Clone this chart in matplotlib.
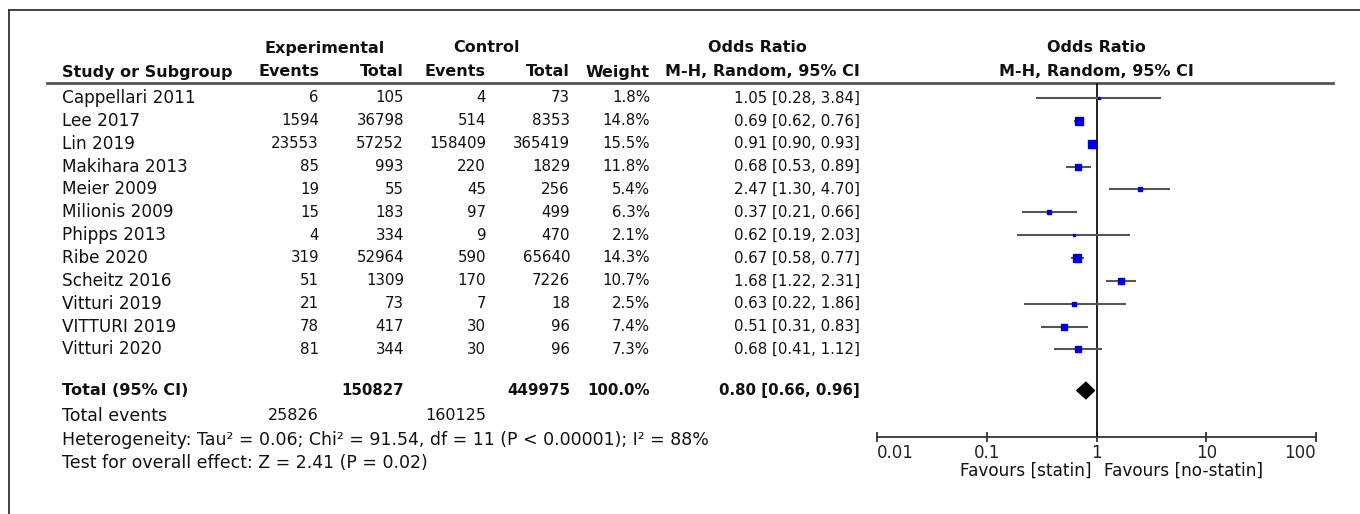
import matplotlib

matplotlib.use("Agg")
import matplotlib.pyplot as plt
from matplotlib.lines import Line2D

# ---- data ----
studies = ["Cappellari 2011", "Lee 2017", "Lin 2019", "Makihara 2013", "Meier 2009",
           "Milionis 2009", "Phipps 2013", "Ribe 2020", "Scheitz 2016", "Vitturi 2019",
           "VITTURI 2019", "Vitturi 2020"]
exp_events = [6, 1594, 23553, 85, 19, 15, 4, 319, 51, 21, 78, 81]
exp_total = [105, 36798, 57252, 993, 55, 183, 334, 52964, 1309, 73, 417, 344]
ctl_events = [4, 514, 158409, 220, 45, 97, 9, 590, 170, 7, 30, 30]
ctl_total = [73, 8353, 365419, 1829, 256, 499, 470, 65640, 7226, 18, 96, 96]
weights = [1.8, 14.8, 15.5, 11.8, 5.4, 6.3, 2.1, 14.3, 10.7, 2.5, 7.4, 7.3]
odds = [1.05, 0.69, 0.91, 0.68, 2.47, 0.37, 0.62, 0.67, 1.68, 0.63, 0.51, 0.68]
ci_low = [0.28, 0.62, 0.90, 0.53, 1.30, 0.21, 0.19, 0.58, 1.22, 0.22, 0.31, 0.41]
ci_high = [3.84, 0.76, 0.93, 0.89, 4.70, 0.66, 2.03, 0.77, 2.31, 1.86, 0.83, 1.12]

total_exp = 150827
total_ctl = 449975
total_or, total_lo, total_hi = 0.80, 0.66, 0.96
events_exp_sum = 25826
events_ctl_sum = 160125
heterogeneity = "Heterogeneity: Tau² = 0.06; Chi² = 91.54, df = 11 (P < 0.00001); I² = 88%"
overall = "Test for overall effect: Z = 2.41 (P = 0.02)"
tick_vals = [0.01, 0.1, 1, 10, 100]
tick_labels = ["0.01", "0.1", "1", "10", "100"]

W, H = 1360, 514
fig = plt.figure(figsize=(W / 100, H / 100), dpi=100)
ax = fig.add_axes([0, 0, 1, 1])
ax.set_xlim(0, W)
ax.set_ylim(H, 0)
ax.axis("off")

FONT = "DejaVu Sans"
y0, pitch = 98, 22.85
total_row = 12.8


def row_y(i):
    return y0 + pitch * i


# frame (top and left border)
ax.add_line(Line2D([9, W], [10, 10], color="#222222", lw=1.2))
ax.add_line(Line2D([9, 9], [10, H], color="#222222", lw=1.2))

# header
hdr = dict(fontfamily=FONT, fontsize=11.5, fontweight="bold", va="center", color="#111111")
ax.text(325, 48, "Experimental", ha="center", **hdr)
ax.text(487, 48, "Control", ha="center", **hdr)
ax.text(757, 48, "Odds Ratio", ha="center", **hdr)
ax.text(1096, 48, "Odds Ratio", ha="center", **hdr)
ax.text(62, 72, "Study or Subgroup", ha="left", **hdr)
ax.text(319, 72, "Events", ha="right", **hdr)
ax.text(404, 72, "Total", ha="right", **hdr)
ax.text(486, 72, "Events", ha="right", **hdr)
ax.text(570, 72, "Total", ha="right", **hdr)
ax.text(650, 72, "Weight", ha="right", **hdr)
ax.text(860, 72, "M-H, Random, 95% CI", ha="right", **hdr)
ax.text(1096, 72, "M-H, Random, 95% CI", ha="center", **hdr)
ax.add_line(Line2D([47, 1333], [83, 83], color="#555555", lw=2))

# study rows
cell = dict(fontfamily=FONT, fontsize=10.8, va="center", color="#111111")
name_style = dict(cell, fontsize=12.2)
for i, name in enumerate(studies):
    y = row_y(i)
    ax.text(62, y, name, ha="left", **name_style)
    ax.text(319, y, str(exp_events[i]), ha="right", **cell)
    ax.text(404, y, str(exp_total[i]), ha="right", **cell)
    ax.text(486, y, str(ctl_events[i]), ha="right", **cell)
    ax.text(570, y, str(ctl_total[i]), ha="right", **cell)
    ax.text(650, y, f"{weights[i]:.1f}%", ha="right", **cell)
    ax.text(860, y, f"{odds[i]:.2f} [{ci_low[i]:.2f}, {ci_high[i]:.2f}]", ha="right", **cell)

# total row
yt = row_y(total_row)
bold = dict(cell, fontweight="bold")
ax.text(62, yt, "Total (95% CI)", ha="left", **dict(bold, fontsize=11.6))
ax.text(404, yt, str(total_exp), ha="right", **bold)
ax.text(570, yt, str(total_ctl), ha="right", **bold)
ax.text(650, yt, "100.0%", ha="right", **bold)
ax.text(860, yt, f"{total_or:.2f} [{total_lo:.2f}, {total_hi:.2f}]", ha="right", **bold)

foot = dict(fontfamily=FONT, fontsize=12.5, va="center", color="#111111")
ax.text(62, 416, "Total events", ha="left", **foot)
ax.text(319, 416, str(events_exp_sum), ha="right", **dict(foot, fontsize=11.5))
ax.text(486, 416, str(events_ctl_sum), ha="right", **dict(foot, fontsize=11.5))
ax.text(62, 440, heterogeneity, ha="left", **foot)
ax.text(62, 463, overall, ha="left", **foot)

# ---- forest plot on a log axis ----
px_left, px_right = 877, 1316
px_top, px_bot = 83, 437
ax2 = fig.add_axes([px_left / W, 1 - px_bot / H, (px_right - px_left) / W, (px_bot - px_top) / H])
ax2.set_xscale("log")
ax2.set_xlim(tick_vals[0], tick_vals[-1])
ax2.set_ylim((px_bot - y0) / pitch, (px_top - y0) / pitch)
ax2.patch.set_alpha(0)
for s in ("top", "left", "right"):
    ax2.spines[s].set_visible(False)
ax2.spines["bottom"].set_color("#333333")
ax2.spines["bottom"].set_linewidth(1.3)
ax2.set_yticks([])
ax2.set_xticks(tick_vals)
ax2.set_xticklabels(tick_labels, fontfamily=FONT, fontsize=12, color="#222222")
ticklbls = ax2.get_xticklabels()
ticklbls[0].set_horizontalalignment("left")
ticklbls[-1].set_horizontalalignment("right")
ax2.minorticks_off()
ax2.tick_params(axis="x", direction="inout", length=7.5, width=1.3, color="#333333", pad=1)
ax2.axvline(1, color="#111111", lw=1.3)

rows = list(range(len(studies)))
ax2.hlines(rows, ci_low, ci_high, color="#555555", lw=1.5)
for i in rows:
    ms = 5.6 * (weights[i] / max(weights)) ** 0.5
    ax2.plot(odds[i], i, marker="s", ms=ms, color="#0000dd", mec="#0000dd", ls="none")

dh = 0.36
ax2.fill([total_lo, total_or, total_hi, total_or],
         [total_row, total_row - dh, total_row, total_row + dh], color="black")

fav = dict(fontfamily=FONT, fontsize=12.2, va="center", color="#111111")
ax.text(1091, 471, "Favours [statin]", ha="right", **fav)
ax.text(1104, 471, "Favours [no-statin]", ha="left", **fav)

fig.savefig("out.png", dpi=100)
